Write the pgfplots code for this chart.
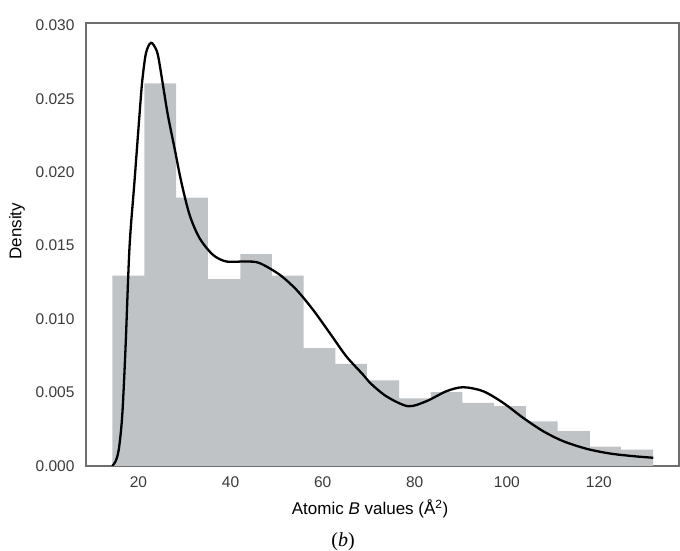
\documentclass[border=0pt]{standalone}
\usepackage{pgfplots}
\pgfplotsset{compat=1.18}
\usepackage{fontspec}
\setmainfont{Liberation Sans}
\newfontfamily\capfont{Liberation Serif}
\definecolor{barcol}{HTML}{BFC3C6}
\definecolor{spine}{HTML}{6E6E6E}
\definecolor{tickc}{HTML}{3A3A3A}

\begin{document}
\begin{tikzpicture}
\path[use as bounding box] (0,0) rectangle (680pt,551pt);
\begin{axis}[
    at={(86pt,85pt)}, anchor=south west,
    scale only axis, width=593pt, height=443pt,
    xmin=8.6, xmax=137.4, ymin=0, ymax=0.03015,
    axis line style={spine, line width=1.3pt},
    major tick length=0pt,
    xtick={20,40,60,80,100,120},
    xticklabels={20,40,60,80,100,120},
    ytick={0,0.005,0.01,0.015,0.02,0.025,0.03},
    yticklabels={0.000,0.005,0.010,0.015,0.020,0.025,0.030},
    scaled y ticks=false,
    tick label style={font=\fontsize{15.5}{18}\selectfont, text=tickc},
    xticklabel style={yshift=-7pt},
    yticklabel style={xshift=-8pt},
    xlabel={Atomic \textit{B} values (Å\textsuperscript{2})},
    ylabel={Density},
    label style={font=\fontsize{17}{20}\selectfont},
    xlabel style={at={(axis description cs:0.479,-0.097)}, anchor=center},
    ylabel style={at={(axis description cs:-0.1164,0.53)}, anchor=center},
]
\addplot[ybar interval, fill=barcol, draw=none] coordinates {
(14.35,0.01295) (21.30,0.02604) (28.20,0.01827) (35.07,0.01272)
(42.11,0.01442) (48.98,0.01295) (55.87,0.00803) (62.76,0.00695)
(69.63,0.00583) (76.59,0.00461) (83.48,0.00502) (90.37,0.00430)
(97.24,0.00407) (104.13,0.00303) (111.02,0.00237) (118.04,0.00131)
(124.78,0.00112) (131.80,0.00112)
};
\addplot[smooth, tension=0.5, black, line width=2.3pt] coordinates {
(14.28,0) (15.0,0.0003) (15.72,0.00112) (16.46,0.00339) (17.17,0.00792)
(18.04,0.01483) (19.13,0.01936) (20.22,0.0239) (20.80,0.02616)
(21.5,0.0279) (22.1,0.02855) (22.7,0.0288) (23.3,0.02865) (24.20,0.0280) (25.28,0.02600)
(26.37,0.0239) (27.83,0.02163) (29.28,0.01936) (31.09,0.0171)
(33.26,0.01551) (36.15,0.01438) (39.07,0.01392) (43.41,0.01392)
(46.30,0.01381) (50.65,0.01302) (54.28,0.0120) (57.89,0.01064)
(61.52,0.00906) (65.15,0.00746) (68.76,0.00622) (70.22,0.00568)
(73.85,0.00474) (78.54,0.00407) (82.54,0.00441) (86.89,0.00509)
(90.50,0.00536) (94.85,0.00509) (99.20,0.0043) (103.54,0.00328)
(107.89,0.00237) (112.24,0.00169) (117.33,0.00117) (122.39,0.00085)
(127.46,0.00067) (131.80,0.00056)
};
\end{axis}
\node[font=\capfont\fontsize{20}{24}\selectfont] at (343pt,9pt) {(\textit{b})};
\end{tikzpicture}
\end{document}
